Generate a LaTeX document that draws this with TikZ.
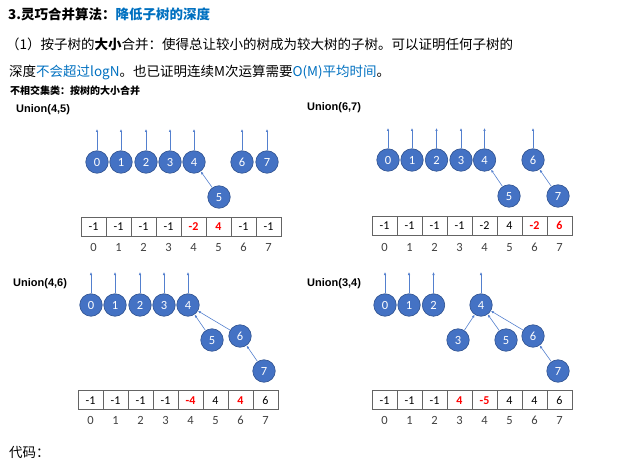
\documentclass[tikz,border=0pt]{standalone}
\usepackage{fontspec}
\setmainfont{Noto Sans CJK SC}
\newfontfamily\numfont{Carlito}[Numbers=Lining]
\newfontfamily\headfont{Liberation Sans}
\usepackage{xcolor}
\definecolor{Ink}{RGB}{0,0,0}
\definecolor{Blue}{RGB}{0,112,192}
\definecolor{Disc}{RGB}{68,114,196}
\definecolor{Rim}{RGB}{47,82,143}
\definecolor{Link}{RGB}{84,128,206}
\definecolor{Hot}{RGB}{255,0,0}
\definecolor{Grid}{RGB}{100,100,100}
\definecolor{Index}{RGB}{64,64,64}
\usetikzlibrary{arrows.meta}

\tikzset{
	elem/.style={circle, fill=Disc, draw=Rim, line width=0.6pt, minimum size=22.5pt, inner sep=0pt, text height=8.5pt, text depth=0pt, text=white, font=\numfont\fontsize{12.5}{12.5}\selectfont},
	cell/.style={draw=Grid, line width=0.8pt, minimum width=25pt, minimum height=19pt, inner sep=0pt, text height=8.2pt, text depth=0pt, font=\numfont\fontsize{12}{12}\selectfont},
	hot/.style={text=Hot, font=\numfont\bfseries\fontsize{12}{12}\selectfont},
	idx/.style={text=Index, inner sep=0pt, text height=8.5pt, text depth=0pt, font=\numfont\fontsize{12.5}{12.5}\selectfont},
	link/.style={draw=Link, line width=0.6pt, -{Latex[length=3pt,width=2.6pt]}},
	union/.style={anchor=west, inner sep=0pt, font=\headfont\bfseries\fontsize{11}{11}\selectfont},
	line/.style={anchor=west, inner sep=0pt, font=\fontsize{13.5}{13.5}\selectfont},
}

\begin{document}
\begin{tikzpicture}[x=1pt, y=-1pt]

		\useasboundingbox (0,0) rectangle (626,465);

		% Texts
		\node[line, font=\bfseries\fontsize{13.5}{13.5}\selectfont] (head) at (8,14) {3.灵巧合并算法：\textcolor{Blue}{降低子树的深度}};
		\node[line] (row1) at (6,44) {（1）按子树的\textbf{大小}合并：使得总让较小的树成为较大树的子树。可以证明任何子树的};
		\node[line] (row2) at (9,72) {深度\textcolor{Blue}{不会超过logN}。也已证明连续M次运算需要\textcolor{Blue}{O(M)平均时间}。};
		\node[line, font=\bfseries\fontsize{10}{10}\selectfont] (note) at (10,91) {不相交集类：按树的大小合并};
		\node[line] (code) at (9,452) {代码：};

		% Union(4,5)
		\node[union] (u1) at (16,110) {Union(4,5)};
		\node[elem] (p1n0) at (97,162) {0};
		\node[elem] (p1n1) at (121,162) {1};
		\node[elem] (p1n2) at (146,162) {2};
		\node[elem] (p1n3) at (170,162) {3};
		\node[elem] (p1n4) at (194,162) {4};
		\node[elem] (p1n5) at (219,197) {5};
		\node[elem] (p1n6) at (242,162) {6};
		\node[elem] (p1n7) at (267,162) {7};
		\coordinate (p1top) at (0,129);
		\draw[link] (p1n0.north) -- (p1n0.north |- p1top);
		\draw[link] (p1n1.north) -- (p1n1.north |- p1top);
		\draw[link] (p1n2.north) -- (p1n2.north |- p1top);
		\draw[link] (p1n3.north) -- (p1n3.north |- p1top);
		\draw[link] (p1n4.north) -- (p1n4.north |- p1top);
		\draw[link] (p1n6.north) -- (p1n6.north |- p1top);
		\draw[link] (p1n7.north) -- (p1n7.north |- p1top);
		\draw[link] (p1n5) -- (p1n4);

		\node[cell] (p1c0) at (93.5,226.5) {-1};
		\node[cell] (p1c1) at (118.5,226.5) {-1};
		\node[cell] (p1c2) at (143.5,226.5) {-1};
		\node[cell] (p1c3) at (168.5,226.5) {-1};
		\node[cell, hot] (p1c4) at (193.5,226.5) {-2};
		\node[cell, hot] (p1c5) at (218.5,226.5) {4};
		\node[cell] (p1c6) at (243.5,226.5) {-1};
		\node[cell] (p1c7) at (268.5,226.5) {-1};
		\node[idx] (p1i0) at (93.5,247) {0};
		\node[idx] (p1i1) at (118.5,247) {1};
		\node[idx] (p1i2) at (143.5,247) {2};
		\node[idx] (p1i3) at (168.5,247) {3};
		\node[idx] (p1i4) at (193.5,247) {4};
		\node[idx] (p1i5) at (218.5,247) {5};
		\node[idx] (p1i6) at (243.5,247) {6};
		\node[idx] (p1i7) at (268.5,247) {7};

		% Union(6,7)
		\node[union] (u2) at (307,108) {Union(6,7)};
		\node[elem] (p2n0) at (388,160) {0};
		\node[elem] (p2n1) at (412,160) {1};
		\node[elem] (p2n2) at (436.5,160) {2};
		\node[elem] (p2n3) at (461,160) {3};
		\node[elem] (p2n4) at (484.5,160) {4};
		\node[elem] (p2n5) at (509,196) {5};
		\node[elem] (p2n6) at (533,160) {6};
		\node[elem] (p2n7) at (558,196) {7};
		\coordinate (p2top) at (0,128);
		\draw[link] (p2n0.north) -- (p2n0.north |- p2top);
		\draw[link] (p2n1.north) -- (p2n1.north |- p2top);
		\draw[link] (p2n2.north) -- (p2n2.north |- p2top);
		\draw[link] (p2n3.north) -- (p2n3.north |- p2top);
		\draw[link] (p2n4.north) -- (p2n4.north |- p2top);
		\draw[link] (p2n6.north) -- (p2n6.north |- p2top);
		\draw[link] (p2n5) -- (p2n4);
		\draw[link] (p2n7) -- (p2n6);

		\node[cell] (p2c0) at (384.5,225.5) {-1};
		\node[cell] (p2c1) at (409.5,225.5) {-1};
		\node[cell] (p2c2) at (434.5,225.5) {-1};
		\node[cell] (p2c3) at (459.5,225.5) {-1};
		\node[cell] (p2c4) at (484.5,225.5) {-2};
		\node[cell] (p2c5) at (509.5,225.5) {4};
		\node[cell, hot] (p2c6) at (534.5,225.5) {-2};
		\node[cell, hot] (p2c7) at (559.5,225.5) {6};
		\node[idx] (p2i0) at (384.5,247) {0};
		\node[idx] (p2i1) at (409.5,247) {1};
		\node[idx] (p2i2) at (434.5,247) {2};
		\node[idx] (p2i3) at (459.5,247) {3};
		\node[idx] (p2i4) at (484.5,247) {4};
		\node[idx] (p2i5) at (509.5,247) {5};
		\node[idx] (p2i6) at (534.5,247) {6};
		\node[idx] (p2i7) at (559.5,247) {7};

		% Union(4,6)
		\node[union] (u3) at (13,284) {Union(4,6)};
		\node[elem] (p3n0) at (91,305) {0};
		\node[elem] (p3n1) at (115,305) {1};
		\node[elem] (p3n2) at (140,305) {2};
		\node[elem] (p3n3) at (164,305) {3};
		\node[elem] (p3n4) at (188,305) {4};
		\node[elem] (p3n5) at (212,340) {5};
		\node[elem] (p3n6) at (240,336) {6};
		\node[elem] (p3n7) at (264,371) {7};
		\coordinate (p3top) at (0,272);
		\draw[link] (p3n0.north) -- (p3n0.north |- p3top);
		\draw[link] (p3n1.north) -- (p3n1.north |- p3top);
		\draw[link] (p3n2.north) -- (p3n2.north |- p3top);
		\draw[link] (p3n3.north) -- (p3n3.north |- p3top);
		\draw[link] (p3n4.north) -- (p3n4.north |- p3top);
		\draw[link] (p3n5) -- (p3n4);
		\draw[link] (p3n6) -- (p3n4);
		\draw[link] (p3n7) -- (p3n6);

		\node[cell] (p3c0) at (90.5,400) {-1};
		\node[cell] (p3c1) at (115.5,400) {-1};
		\node[cell] (p3c2) at (140.5,400) {-1};
		\node[cell] (p3c3) at (165.5,400) {-1};
		\node[cell, hot] (p3c4) at (190.5,400) {-4};
		\node[cell] (p3c5) at (215.5,400) {4};
		\node[cell, hot] (p3c6) at (240.5,400) {4};
		\node[cell] (p3c7) at (265.5,400) {6};
		\node[idx] (p3i0) at (90.5,420) {0};
		\node[idx] (p3i1) at (115.5,420) {1};
		\node[idx] (p3i2) at (140.5,420) {2};
		\node[idx] (p3i3) at (165.5,420) {3};
		\node[idx] (p3i4) at (190.5,420) {4};
		\node[idx] (p3i5) at (215.5,420) {5};
		\node[idx] (p3i6) at (240.5,420) {6};
		\node[idx] (p3i7) at (265.5,420) {7};

		% Union(3,4)
		\node[union] (u4) at (307,284) {Union(3,4)};
		\node[elem] (p4n0) at (385,305) {0};
		\node[elem] (p4n1) at (409,305) {1};
		\node[elem] (p4n2) at (433.5,305) {2};
		\node[elem] (p4n3) at (458,340) {3};
		\node[elem] (p4n4) at (481,305) {4};
		\node[elem] (p4n5) at (506,340) {5};
		\node[elem] (p4n6) at (533,336) {6};
		\node[elem] (p4n7) at (558,371) {7};
		\coordinate (p4top) at (0,272);
		\draw[link] (p4n0.north) -- (p4n0.north |- p4top);
		\draw[link] (p4n1.north) -- (p4n1.north |- p4top);
		\draw[link] (p4n2.north) -- (p4n2.north |- p4top);
		\draw[link] (p4n4.north) -- (p4n4.north |- p4top);
		\draw[link] (p4n3) -- (p4n4);
		\draw[link] (p4n5) -- (p4n4);
		\draw[link] (p4n6) -- (p4n4);
		\draw[link] (p4n7) -- (p4n6);

		\node[cell] (p4c0) at (384.5,400) {-1};
		\node[cell] (p4c1) at (409.5,400) {-1};
		\node[cell] (p4c2) at (434.5,400) {-1};
		\node[cell, hot] (p4c3) at (459.5,400) {4};
		\node[cell, hot] (p4c4) at (484.5,400) {-5};
		\node[cell] (p4c5) at (509.5,400) {4};
		\node[cell] (p4c6) at (534.5,400) {4};
		\node[cell] (p4c7) at (559.5,400) {6};
		\node[idx] (p4i0) at (384.5,420) {0};
		\node[idx] (p4i1) at (409.5,420) {1};
		\node[idx] (p4i2) at (434.5,420) {2};
		\node[idx] (p4i3) at (459.5,420) {3};
		\node[idx] (p4i4) at (484.5,420) {4};
		\node[idx] (p4i5) at (509.5,420) {5};
		\node[idx] (p4i6) at (534.5,420) {6};
		\node[idx] (p4i7) at (559.5,420) {7};

	\end{tikzpicture}
\end{document}
